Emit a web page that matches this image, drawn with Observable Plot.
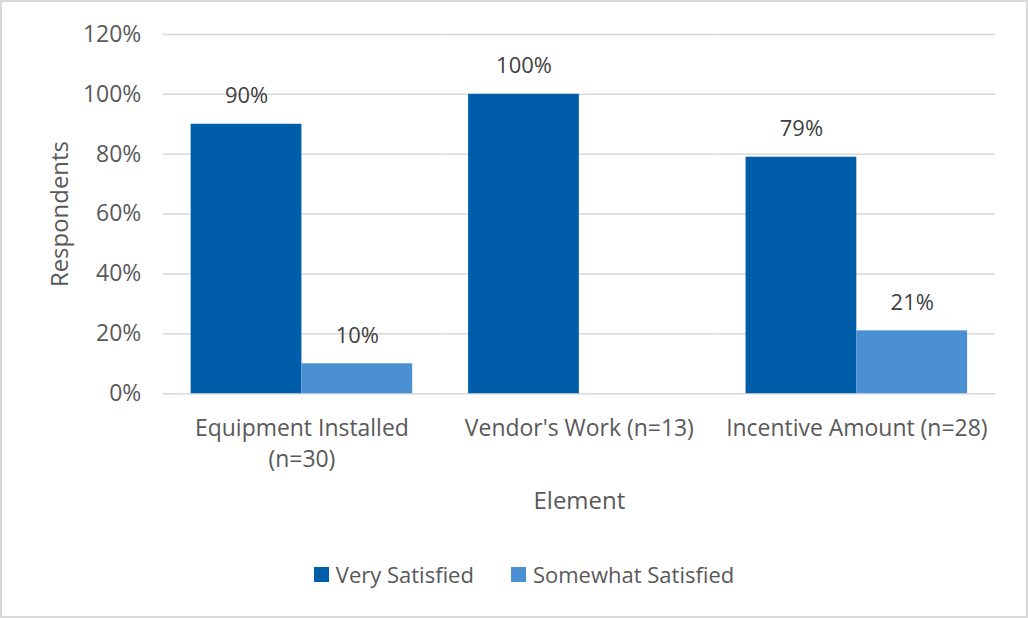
<!DOCTYPE html>
<html>
<head>
<meta charset="utf-8">
<script src="https://cdn.jsdelivr.net/npm/d3@7"></script>
<script src="https://cdn.jsdelivr.net/npm/@observablehq/plot@0.6"></script>
<style>
  html, body { margin: 0; padding: 0; background: #fff; }
  #frame { position: relative; width: 1028px; height: 618px; box-sizing: border-box; border: 2px solid #d9d9d9; margin: 0; overflow: hidden; }
  #chart { position: absolute; left: -2px; top: -2px; }
  #legend { position: absolute; left: 10px; width: 1024px; top: 557px; display: flex; justify-content: center; gap: 37px; font-family: "Open Sans", sans-serif; font-size: 22px; color: #595959; }
  .item { display: flex; align-items: center; gap: 7px; }
  .sw { width: 15px; height: 15px; display: inline-block; }
</style>
</head>
<body>
<div id="frame"><div id="chart"></div><div id="legend"></div></div>
<script>
const categories = ["Equipment Installed (n=30)", "Vendor's Work (n=13)", "Incentive Amount (n=28)"];
const categoryLabels = ["Equipment Installed\n(n=30)", "Vendor's Work (n=13)", "Incentive Amount (n=28)"];
const series = ["Very Satisfied", "Somewhat Satisfied"];
const verySatisfied = [90, 100, 79];
const somewhatSatisfied = [10, 0, 21];
const yTicks = [0, 20, 40, 60, 80, 100, 120];
const colors = ["#005DAA", "#4A90D2"];

const data = [];
categories.forEach((c, i) => {
  data.push({category: c, series: series[0], value: verySatisfied[i]});
  data.push({category: c, series: series[1], value: somewhatSatisfied[i]});
});

const font = "Open Sans, sans-serif";
const plot = Plot.plot({
  width: 1028,
  height: 618,
  marginLeft: 163,
  marginRight: 31,
  marginTop: 34,
  marginBottom: 224,
  style: {fontFamily: font, fontSize: "20px", color: "#595959", background: "transparent"},
  fx: {domain: categories, padding: 0, label: null},
  x: {domain: series, paddingInner: 0, paddingOuter: 0.25, axis: null},
  y: {domain: [0, 120], ticks: yTicks, label: null},
  color: {domain: series, range: colors},
  marks: [
    Plot.gridY(yTicks, {stroke: "#d9d9d9", strokeOpacity: 1, strokeWidth: 1.5}),
    Plot.axisY({ticks: yTicks, tickSize: 0, tickPadding: 22, tickFormat: d => d + "%", fontSize: 23,
      label: "Respondents", labelAnchor: "center", labelArrow: "none", labelOffset: 112}),
    Plot.barY(data, {fx: "category", x: "series", y: "value", fill: "series"}),
    Plot.text(data.filter(d => d.value > 0), {fx: "category", x: "series", y: "value", text: d => d.value + "%", dy: -28, fontSize: 22, fill: "#404040"}),
    Plot.axisFx({anchor: "bottom", tickSize: 0, tickPadding: 20, fontSize: 23, lineHeight: 1.35,
      tickFormat: d => categoryLabels[categories.indexOf(d)],
      label: "Element", labelAnchor: "center", labelArrow: "none", labelOffset: 115})
  ]
});
plot.querySelectorAll("g[aria-label='y-axis label'], g[aria-label='fx-axis label']").forEach(e => e.setAttribute("font-size", "24"));
document.getElementById("chart").appendChild(plot);

const legend = document.getElementById("legend");
series.forEach((s, i) => {
  const it = document.createElement("div");
  it.className = "item";
  it.innerHTML = `<span class="sw" style="background:${colors[i]}"></span><span>${s}</span>`;
  legend.appendChild(it);
});
</script>
</body>
</html>
